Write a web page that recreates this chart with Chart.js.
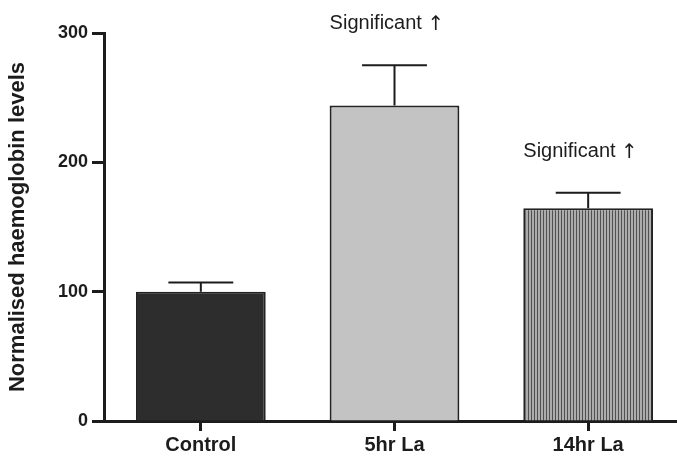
<!DOCTYPE html>
<html>
<head>
<meta charset="utf-8">
<script src="https://cdn.jsdelivr.net/npm/chart.js@4.4.1/dist/chart.umd.min.js"></script>
<style>
  html, body { margin: 0; padding: 0; background: #fff; overflow: hidden; }
  #wrap { width: 677px; height: 458px; overflow: hidden; }
</style>
</head>
<body>
<div id="wrap"><canvas id="hbChart" width="685" height="458"></canvas></div>
<script>
const groups = ['Control', '5hr La', '14hr La'];
const levels = [100, 244, 164.5];
const sem = [7, 31, 12];
const notes = ['', 'Significant \u2191', 'Significant \u2191'];
const yTicks = [0, 100, 200, 300];

const FONT = '"Liberation Sans", Arial, Helvetica, sans-serif';
const INK = '#1c1c1c';

// vertical hatch used for the 14hr bar
function stripePattern() {
    const c = document.createElement('canvas');
    c.width = 3; c.height = 4;
    const g = c.getContext('2d');
    g.fillStyle = '#acacac';
    g.fillRect(0, 0, 3, 4);
    g.fillStyle = '#505050';
    g.fillRect(0, 0, 1, 4);
    return g.createPattern(c, 'repeat');
}

// SEM whiskers plus the significance notes above them
const errorBars = {
    id: 'errorBars',
    afterDatasetsDraw(chart) {
        const ctx = chart.ctx;
        const meta = chart.getDatasetMeta(0);
        const y = chart.scales.y;
        ctx.save();
        ctx.strokeStyle = INK;
        ctx.lineWidth = 2;
        meta.data.forEach((bar, i) => {
            const top = y.getPixelForValue(levels[i] + sem[i]);
            const base = y.getPixelForValue(levels[i]);
            const half = bar.width / 4;
            ctx.beginPath();
            ctx.moveTo(bar.x, base);
            ctx.lineTo(bar.x, top);
            ctx.moveTo(bar.x - half, top);
            ctx.lineTo(bar.x + half, top);
            ctx.stroke();
            if (notes[i]) {
                // words in the sans face, the arrow from DejaVu so it stands cap-high
                const words = notes[i].slice(0, -1);
                const arrow = notes[i].slice(-1);
                const x0 = bar.x - bar.width / 2;
                const yb = top - 36;
                ctx.fillStyle = INK;
                ctx.textAlign = 'left';
                ctx.textBaseline = 'alphabetic';
                ctx.font = '20px ' + FONT;
                ctx.fillText(words, x0, yb);
                const w = ctx.measureText(words).width;
                ctx.font = '20px "DejaVu Sans"';
                ctx.fillText(arrow, x0 + w, yb + 1);
            }
        });
        ctx.restore();
    }
};

new Chart(document.getElementById('hbChart'), {
    type: 'bar',
    data: {
        labels: groups,
        datasets: [{
            data: levels,
            backgroundColor: ['#2d2d2d', '#c3c3c3', stripePattern()],
            borderColor: '#222',
            borderWidth: 2,
            barPercentage: 0.67,
            categoryPercentage: 1
        }]
    },
    options: {
        responsive: false,
        animation: false,
        layout: { padding: { top: 33, left: 0, right: 0, bottom: 0 } },
        plugins: { legend: { display: false }, tooltip: { enabled: false } },
        scales: {
            x: {
                afterFit: s => { s.height = 37; },
                grid: { offset: false, drawOnChartArea: false, tickLength: 10, tickWidth: 3, tickColor: INK },
                border: { color: INK, width: 3 },
                ticks: { color: INK, padding: 2, font: { family: FONT, size: 20, weight: 'bold' } }
            },
            y: {
                min: 0,
                max: 300,
                afterFit: s => { s.width = 104; },
                afterBuildTicks: s => { s.ticks = yTicks.map(v => ({ value: v })); },
                grid: { drawOnChartArea: false, tickLength: 12, tickWidth: 3, tickColor: INK },
                border: { color: INK, width: 3 },
                ticks: { color: INK, padding: 4, font: { family: FONT, size: 18, weight: 'bold' } },
                title: {
                    display: true,
                    text: 'Normalised haemoglobin levels',
                    color: INK,
                    padding: { top: 5, bottom: 0 },
                    font: { family: FONT, size: 22, weight: 'bold' }
                }
            }
        }
    },
    plugins: [errorBars]
});
</script>
</body>
</html>
